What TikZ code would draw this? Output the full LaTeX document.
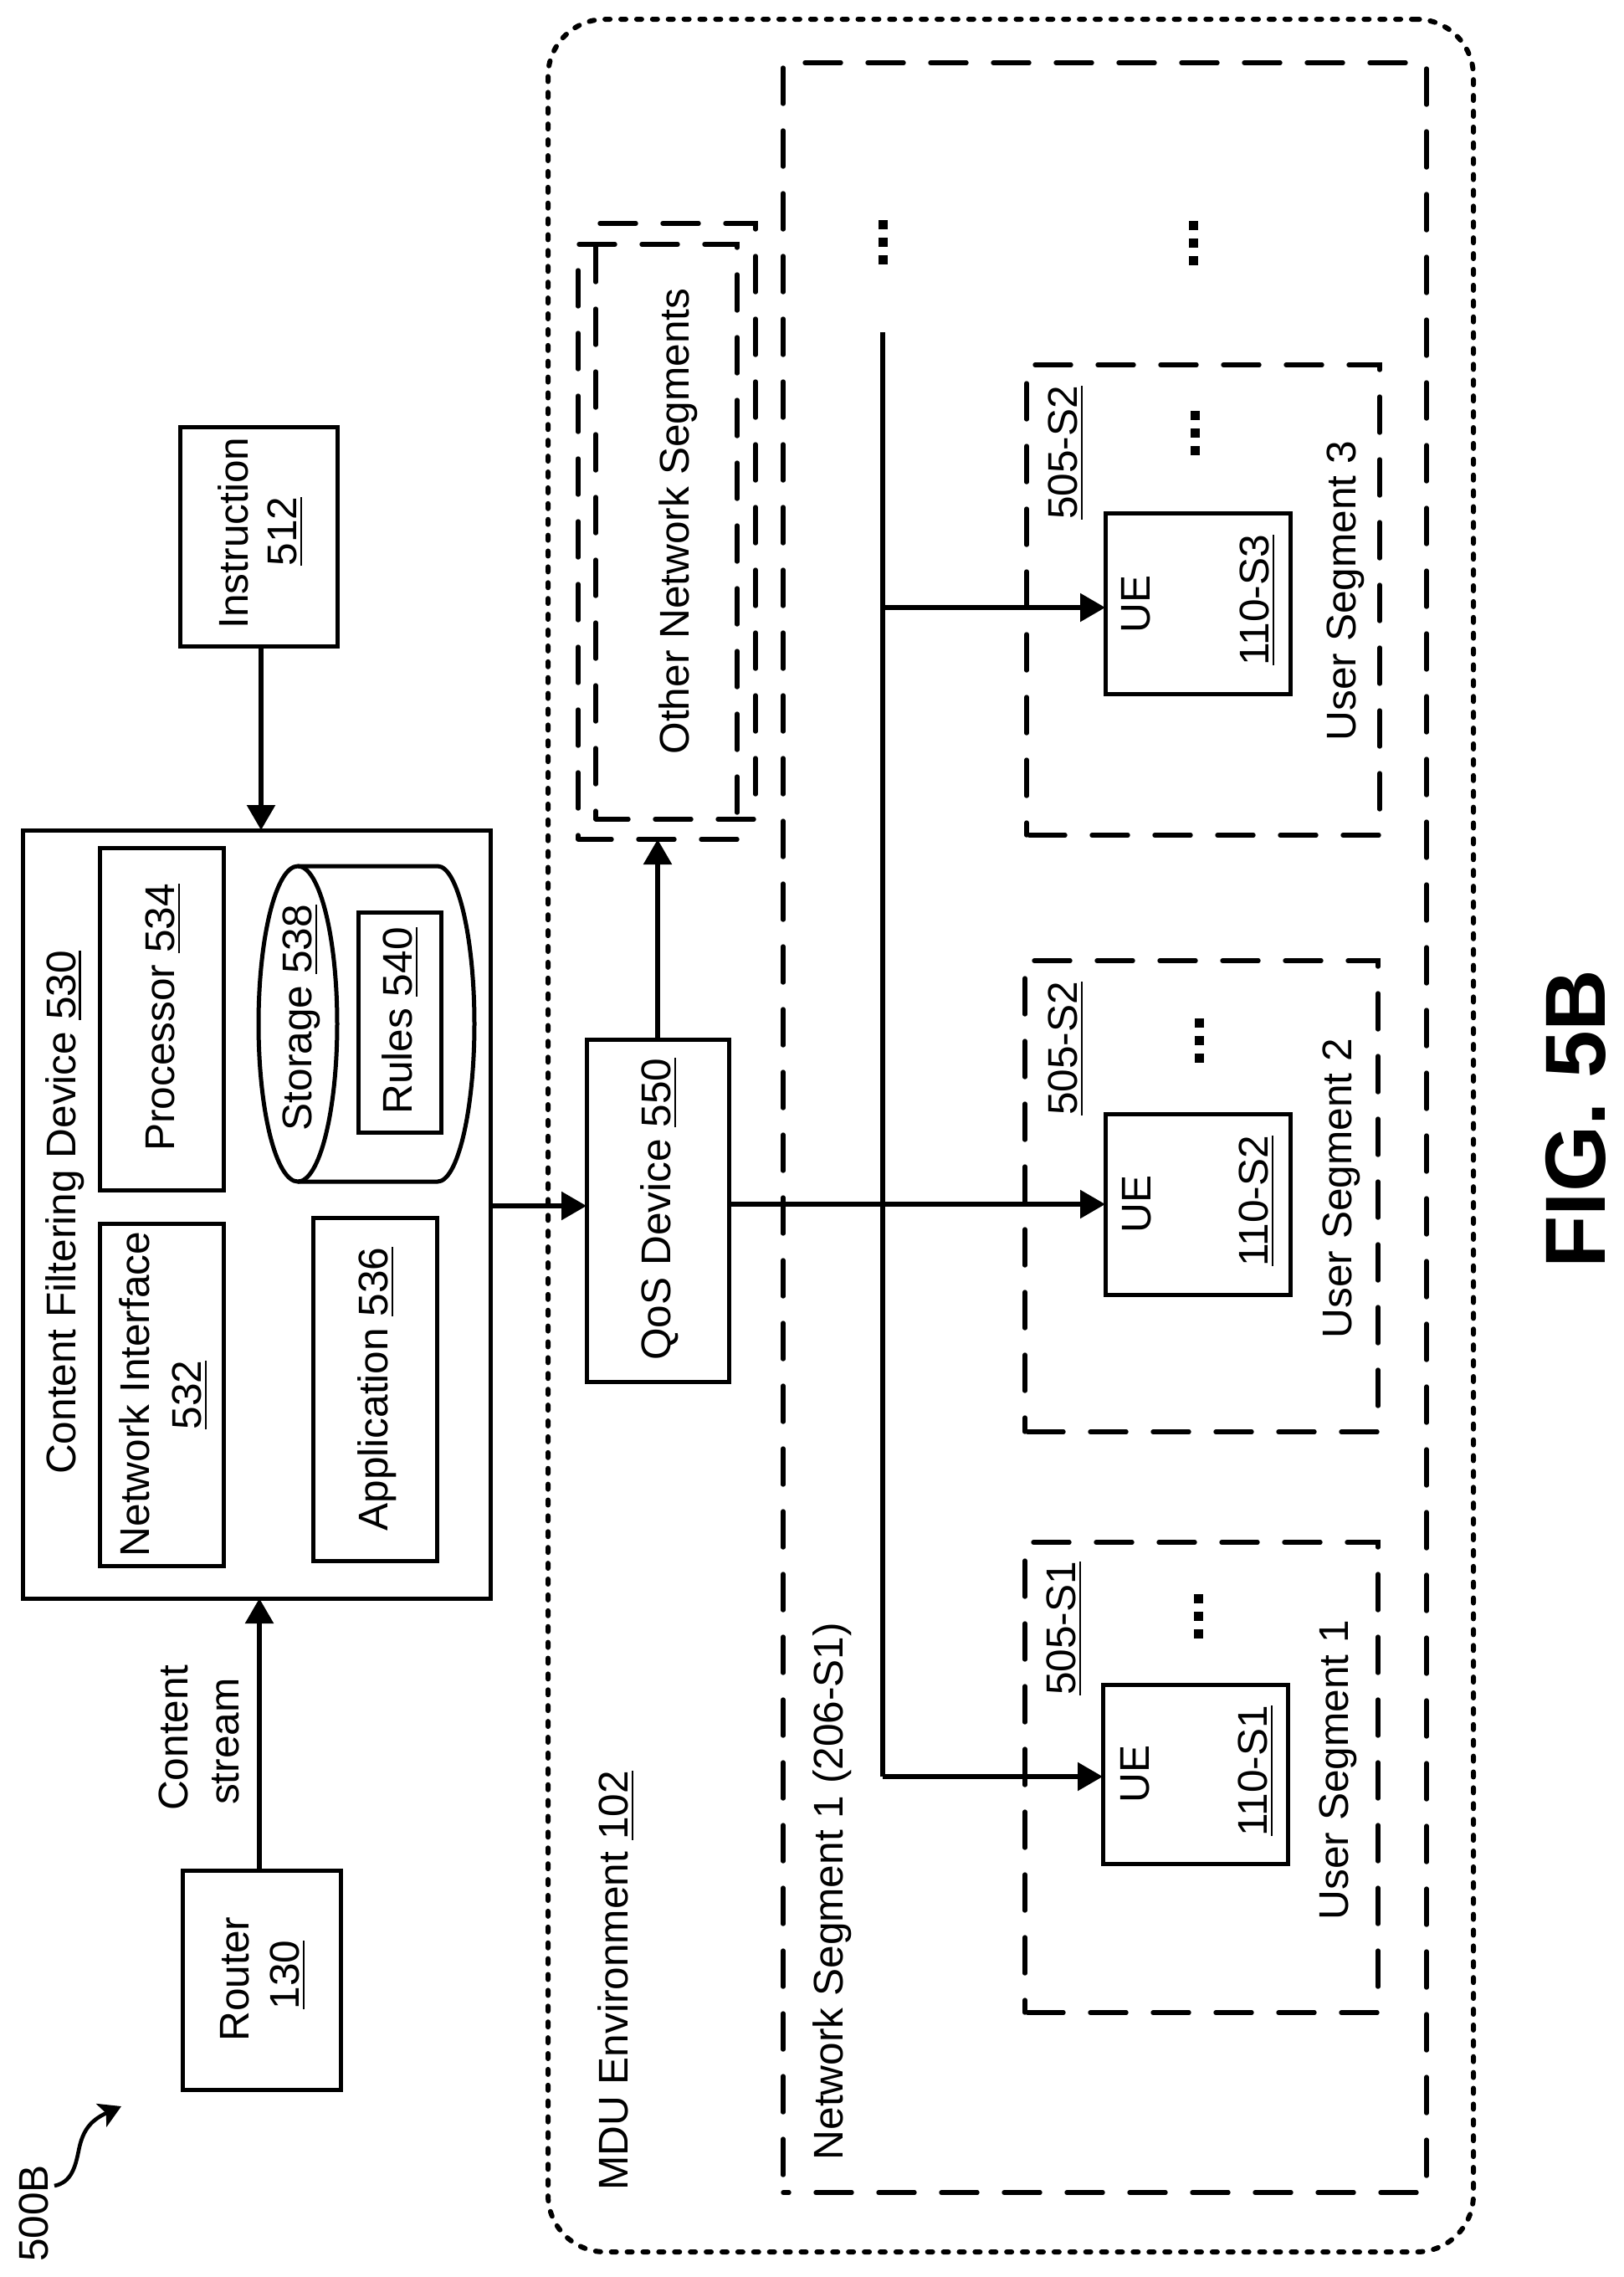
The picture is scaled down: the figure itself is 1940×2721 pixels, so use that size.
\documentclass[tikz,border=0pt]{standalone}
\usepackage{fontspec}
\setmainfont{Liberation Sans}
\usetikzlibrary{arrows.meta,fit}
\newsavebox\ulbox
\newcommand{\ulab}[1]{\sbox\ulbox{#1}\rlap{\rule[-3.45pt]{\wd\ulbox}{1.2pt}}\usebox\ulbox}
\tikzset{
  x=0.5pt,y=-0.5pt,
  boxn/.style={draw=black,line width=2.5pt,inner sep=0pt,outer sep=0pt,line join=miter},
  dashbox/.style={boxn,line width=2.7pt,dash pattern=on 21.5pt off 16pt,line cap=round,dash phase=#1},
  dotbox/.style={draw=black,line width=3pt,rounded corners=34pt,dash pattern=on 3pt off 6.45pt,line cap=round,inner sep=0pt,outer sep=0pt},
  lab/.style={rotate=90,font=\fontsize{24.8pt}{31pt}\selectfont,inner sep=0pt,anchor=base},
  arr/.style={line width=2.8pt,-{Triangle[length=15pt,width=16.5pt]}},
  bus/.style={line width=2.8pt},
  dotsq/.style={fill=black},
}
\newcommand{\vdotsq}[2]{%
  \fill[dotsq] (#1-5.5,#2-5) rectangle (#1+5.5,#2+5.5);
  \fill[dotsq] (#1-5.5,#2+16) rectangle (#1+5.5,#2+26.5);
  \fill[dotsq] (#1-5.5,#2+37) rectangle (#1+5.5,#2+47.5);
}
\begin{document}
\begin{tikzpicture}
\useasboundingbox (0,0) rectangle (1940,2721);
% containers
\node[dotbox,fit={(655,23)(1761,2691)}] (mdu) {};
\node[dashbox=18pt,fit={(936,75)(1705,2620)}] (netseg) {};
\node[dashbox=2pt,fit={(712,267)(903,979)}] (otherA) {};
\node[dashbox=1.5pt,fit={(691,292)(881,1003)}] (otherB) {};
% left side
\node[boxn,fit={(218,2235)(407,2497)}] (router) {};
\node[boxn,fit={(27,992)(586,1910)}] (cfd) {};
\node[boxn,fit={(119,1013)(267,1422)}] (proc) {};
\node[boxn,fit={(119,1462)(267,1871)}] (nif) {};
\node[boxn,fit={(374,1455)(522,1865)}] (app) {};
\node[boxn,fit={(428,1090)(527,1353)}] (rules) {};
\node[boxn,fit={(215,510)(403,772)}] (instr) {};
\node[boxn,fit={(701,1242)(871,1651)}] (qos) {};
% storage
\draw[line width=2.5pt] (356,1223.5) ellipse [x radius=47,y radius=188.5];
\draw[line width=2.5pt] (356,1035) -- (523,1035) .. controls (547,1035) and (567,1120) .. (567,1223.5) .. controls (567,1327) and (547,1412) .. (523,1412) -- (356,1412);
% user segments
\node[dashbox=36pt,fit={(1227,436)(1649,998)}] (us3) {};
\node[dashbox=36pt,fit={(1225,1148)(1647,1711)}] (us2) {};
\node[dashbox=36pt,fit={(1225,1843)(1647,2405)}] (us1) {};
\node[boxn,fit={(1321,613)(1542,829)}] (ue3) {};
\node[boxn,fit={(1321,1331)(1542,1547)}] (ue2) {};
\node[boxn,fit={(1318,2013)(1539,2227)}] (ue1) {};
% bus
\coordinate (bustop) at (1055,397);
\coordinate (busbot) at (1055,2123);
\coordinate (bus3) at (1055,726);
\draw[bus] (bustop) -- (busbot);
% connectors
\coordinate (routout) at (310,2235);
\draw[arr] (routout) -- (routout |- cfd.south);
\coordinate (instout) at (312,772);
\draw[arr] (instout) -- (instout |- cfd.north);
\coordinate (cfdout) at (586,1441);
\draw[arr] (cfdout) -- (cfdout -| qos.west);
\coordinate (qosout) at (786,1242);
\draw[arr] (qosout) -- (qosout |- otherB.south);
\coordinate (qosr) at (871,1439);
\draw[arr] (qosr) -- (qosr -| ue2.west);
\draw[arr] (bus3) -- (bus3 -| ue3.west);
\draw[arr] (busbot) -- (busbot -| ue1.west);
% squiggle
\coordinate (sqs) at (65,2612);
\coordinate (sqe) at (145,2517);
\draw[line width=2.3pt,-{Stealth[length=13pt,width=15pt,inset=3pt]}] (sqs) .. controls (85,2608) and (90,2590) .. (94,2570) .. controls (98,2550) and (105,2535) .. (sqe);
% dots
\vdotsq{1055}{268}
\vdotsq{1426}{269}
\vdotsq{1428}{496}
\vdotsq{1433}{1222}
\vdotsq{1432}{1910}
% labels
\node[lab] (lcfd) at (90,1449) {Content Filtering Device \ulab{530}};
\node[lab] (lproc) at (208,1216) {Processor \ulab{534}};
\node[lab] (lnif) at (178,1666) {Network Interface};
\node[lab] (lnifb) at (240,1667) {\ulab{532}};
\node[lab] (lapp) at (463,1660) {Application \ulab{536}};
\node[lab] (lsto) at (372,1216) {Storage \ulab{538}};
\node[lab] (lrul) at (492,1220) {Rules \ulab{540}};
\node[lab] (lrou) at (297,2365) {Router};
\node[lab] (lroub) at (357,2360) {\ulab{130}};
\node[lab] (lins) at (296,637) {Instruction};
\node[lab] (linsb) at (354,635) {\ulab{512}};
\node[lab] (lcon) at (224,2077) {Content};
\node[lab] (lconb) at (285,2081) {stream};
\node[lab] (lqos) at (801,1445) {QoS Device \ulab{550}};
\node[lab] (loth) at (823,623) {Other Network Segments};
\node[lab] (lmdu) at (750,2367) {MDU Environment \ulab{102}};
\node[lab] (lnet) at (1007,2260) {Network Segment 1 (206-S1)};
\node[lab] (lue3) at (1374,722) {UE};
\node[lab] (lid3) at (1516,717) {\ulab{110-S3}};
\node[lab] (lus3) at (1620,706) {User Segment 3};
\node[lab] (ls3) at (1287,541) {\ulab{505-S2}};
\node[lab] (lue2) at (1375,1439) {UE};
\node[lab] (lid2) at (1515,1435) {\ulab{110-S2}};
\node[lab] (lus2) at (1615,1420) {User Segment 2};
\node[lab] (ls2) at (1287,1253) {\ulab{505-S2}};
\node[lab] (lue1) at (1373,2120) {UE};
\node[lab] (lid1) at (1514,2116) {\ulab{110-S1}};
\node[lab] (lus1) at (1611,2115) {User Segment 1};
\node[lab] (ls1) at (1285,1946) {\ulab{505-S1}};
\node[lab] (l500) at (57,2645) {500B};
\node[rotate=90,font=\fontsize{51pt}{60pt}\selectfont\bfseries,inner sep=0pt,anchor=base] (lfig) at (1918,1337) {FIG. 5B};
\end{tikzpicture}
\end{document}
